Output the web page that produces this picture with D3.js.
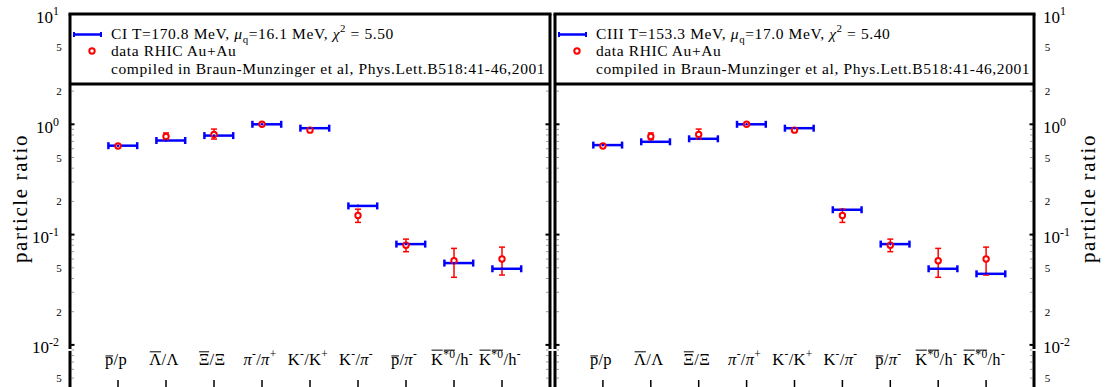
<!DOCTYPE html>
<html>
<head>
<meta charset="utf-8">
<script src="https://cdn.jsdelivr.net/npm/d3@7"></script>
<style>
  body { margin: 0; background: #fff; }
  svg { display: block; font-family: "Liberation Serif", "DejaVu Serif", serif; }
</style>
</head>
<body>
<div id="graph"></div>
<script>
// ---- data ----
const categories = [
    [{t: "p", over: 0.55}, {t: "/p"}],
    [{t: "Λ", over: 0.8}, {t: "/Λ"}],
    [{t: "Ξ", over: 0.8}, {t: "/Ξ"}],
    [{t: "π", it: true}, {t: "-", sup: true}, {t: "/"}, {t: "π", it: true}, {t: "+", sup: true}],
    [{t: "K"}, {t: "-", sup: true}, {t: "/K"}, {t: "+", sup: true}],
    [{t: "K"}, {t: "-", sup: true}, {t: "/"}, {t: "π", it: true}, {t: "-", sup: true}],
    [{t: "p", over: 0.55}, {t: "/"}, {t: "π", it: true}, {t: "-", sup: true}],
    [{t: "K", over: 0.9}, {t: "*0", sup: true, over: 0.9}, {t: "/h"}, {t: "-", sup: true}],
    [{t: "K", over: 0.9}, {t: "*0", sup: true, over: 0.9}, {t: "/h"}, {t: "-", sup: true}]
];

const ratioData = [0.635, 0.775, 0.81, 1.0, 0.885, 0.149, 0.080, 0.058, 0.060];
const ratioErrLo = [0.615, 0.725, 0.735, 0.985, 0.865, 0.129, 0.070, 0.041, 0.043];
const ratioErrHi = [0.655, 0.835, 0.905, 1.015, 0.905, 0.170, 0.091, 0.075, 0.077];

const fitCI = [0.640, 0.713, 0.790, 1.0, 0.922, 0.182, 0.082, 0.0552, 0.0490];
const fitCIII = [0.648, 0.694, 0.739, 1.0, 0.922, 0.168, 0.082, 0.0490, 0.0441];

const majorTicks = [10, 1, 0.1, 0.01];
const majorExp = ["1", "0", "-1", "-2"];
const minorLabelTicks = [5, 2, 0.5, 0.2, 0.05, 0.02, 0.005];
const minorLabels = ["5", "2", "5", "2", "5", "2", "5"];

const panels = [
    {x0: 70, x1: 550, side: "left", fit: fitCI,
     title: [{t: "CI T=170.8 MeV, "}, {t: "μ", it: true}, {t: "q", sub: true}, {t: "=16.1 MeV, "},
             {t: "χ", it: true}, {t: "2", sup: true}, {t: " = 5.50"}]},
    {x0: 555, x1: 1034, side: "right", fit: fitCIII,
     title: [{t: "CIII T=153.3 MeV, "}, {t: "μ", it: true}, {t: "q", sub: true}, {t: "=17.0 MeV, "},
             {t: "χ", it: true}, {t: "2", sup: true}, {t: " = 5.40"}]}
];

const width = 1115;
const height = 387;
const frameTop = 14;
const legendBottom = 84;

const svg = d3.select("#graph").append("svg")
    .attr("width", width)
    .attr("height", height);

const y = d3.scaleLog()
    .domain([10, Math.pow(10, -2.5)])
    .range([frameTop, frameTop + 3.5 * 110.3]);

// rich text helper: segments with sup/sub/italic/overline
const rich = (sel, segs, fs) => {
    let shift = 0;
    const overs = [];
    segs.forEach(s => {
        const ts = sel.append("tspan").text(s.t);
        let target = 0, size = fs;
        if (s.sup) { target = -fs * 0.42; size = fs * 0.7; }
        if (s.sub) { target = fs * 0.25; size = fs * 0.7; }
        ts.attr("dy", target - shift).style("font-size", size + "px");
        shift = target;
        if (s.it) ts.style("font-style", "italic");
        if (s.over) overs.push({node: ts.node(), h: s.over});
    });
    return overs;
};

const drawOverlines = (g, overs, baseY, fs) => {
    overs.forEach(o => {
        const b = o.node.getBBox();
        g.append("line")
            .attr("x1", b.x + 0.5).attr("x2", b.x + b.width - 0.5)
            .attr("y1", baseY - o.h * fs).attr("y2", baseY - o.h * fs)
            .attr("stroke", "#000").attr("stroke-width", 1);
    });
};

panels.forEach(p => {
    const g = svg.append("g");
    const x = d3.scaleLinear().domain([0, 10]).range([p.x0, p.x1]);
    const idx = d3.range(categories.length);

    // minor ticks (grey) on both sides
    const minors = [];
    for (let e = -3; e <= 0; e++) for (let m = 2; m <= 9; m++) minors.push(m * Math.pow(10, e));
    [p.x0, p.x1].forEach((xx, k) => {
        const dir = k === 0 ? 1 : -1;
        g.selectAll(null).data(minors.filter(v => y(v) > legendBottom + 2)).join("line")
            .attr("x1", xx + dir * 1.5).attr("x2", xx + dir * 4)
            .attr("y1", d => y(d)).attr("y2", d => y(d))
            .attr("stroke", "#999").attr("stroke-width", 1);
        g.selectAll(null).data(majorTicks.filter(v => y(v) > legendBottom + 2)).join("line")
            .attr("x1", xx - dir * 1).attr("x2", xx + dir * 4.5)
            .attr("y1", d => y(d)).attr("y2", d => y(d))
            .attr("stroke", "#000").attr("stroke-width", 2);
    });

    // frame
    const frame = g.append("g").attr("stroke", "#000").attr("stroke-width", 3).attr("fill", "none");
    frame.append("line").attr("x1", p.x0 - 1.5).attr("x2", p.x1 + 1.5).attr("y1", frameTop).attr("y2", frameTop);
    frame.append("line").attr("x1", p.x0).attr("x2", p.x1).attr("y1", legendBottom).attr("y2", legendBottom);
    [p.x0, p.x1].forEach(xx => {
        frame.append("line").attr("x1", xx).attr("x2", xx).attr("y1", frameTop).attr("y2", y(0.01) + 4);
        frame.append("line").attr("x1", xx).attr("x2", xx).attr("y1", y(0.01) + 6).attr("y2", height);
    });

    // y tick labels
    const lab = svg.append("g");
    const isLeft = p.side === "left";
    majorTicks.forEach((v, i) => {
        const t = lab.append("text")
            .attr("x", isLeft ? p.x0 - 11 : p.x1 + 9)
            .attr("y", y(v) + 8.5)
            .attr("text-anchor", isLeft ? "end" : "start")
            .style("font-size", "17px");
        rich(t, [{t: "10"}, {t: majorExp[i], sup: true}], 17);
    });
    lab.selectAll(null).data(minorLabelTicks).join("text")
        .attr("x", isLeft ? p.x0 - 11 : p.x1 + 13.5)
        .attr("y", d => y(d) + 4)
        .attr("text-anchor", "middle")
        .style("font-size", "11px")
        .text((d, i) => minorLabels[i]);

    const ax = isLeft ? 20 : 1088;
    lab.append("text")
        .attr("transform", `translate(${ax},${y(Math.pow(10, -0.7)) - 3}) rotate(-90)`)
        .attr("text-anchor", "middle")
        .attr("dy", "0.32em")
        .style("font-size", "21px")
        .style("letter-spacing", "1.6px")
        .text("particle ratio");

    // category labels
    idx.forEach(i => {
        const t = lab.append("text")
            .attr("x", x(i + 1) - 2)
            .attr("y", 365)
            .attr("text-anchor", "middle")
            .style("font-size", "16.5px")
            .style("letter-spacing", "0.3px");
        const overs = rich(t, categories[i], 16.5);
        drawOverlines(lab, overs, 365, 16.5);
    });
    lab.selectAll(null).data(idx).join("line")
        .attr("x1", i => x(i + 1)).attr("x2", i => x(i + 1))
        .attr("y1", 380).attr("y2", height)
        .attr("stroke", "#000").attr("stroke-width", 1.5);

    // fit bars (blue)
    const blue = "#0000ff";
    const fit = g.append("g").attr("stroke", blue).attr("stroke-width", 2.5);
    fit.selectAll(null).data(idx).join("line")
        .attr("x1", i => x(i + 1 - 0.2)).attr("x2", i => x(i + 1 + 0.4))
        .attr("y1", i => y(p.fit[i])).attr("y2", i => y(p.fit[i]));
    [-0.2, 0.4].forEach(off => {
        fit.selectAll(null).data(idx).join("line")
            .attr("x1", i => x(i + 1 + off)).attr("x2", i => x(i + 1 + off))
            .attr("y1", i => y(p.fit[i]) - 3.5).attr("y2", i => y(p.fit[i]) + 3.5);
    });

    // data (red)
    const red = "#ff0000";
    const dat = g.append("g").attr("stroke", red).attr("stroke-width", 1.5).attr("fill", "none");
    dat.selectAll(null).data(idx).join("line")
        .attr("x1", i => x(i + 1)).attr("x2", i => x(i + 1))
        .attr("y1", i => y(ratioErrLo[i])).attr("y2", i => y(ratioErrHi[i]));
    [ratioErrLo, ratioErrHi].forEach(arr => {
        dat.selectAll(null).data(idx).join("line")
            .attr("x1", i => x(i + 1) - 3).attr("x2", i => x(i + 1) + 3)
            .attr("y1", i => y(arr[i])).attr("y2", i => y(arr[i]));
    });
    dat.selectAll(null).data(idx).join("circle")
        .attr("cx", i => x(i + 1)).attr("cy", i => y(ratioData[i]))
        .attr("r", 2.7).attr("stroke-width", 2).attr("fill", "#fff");
    g.selectAll(null).data(idx).join("circle")
        .attr("cx", i => x(i + 1)).attr("cy", i => y(p.fit[i]))
        .attr("r", 1.3).attr("fill", blue);

    // legend
    const leg = svg.append("g");
    const lx = p.x0;
    leg.append("line").attr("x1", lx + 4).attr("x2", lx + 31).attr("y1", 34.5).attr("y2", 34.5)
        .attr("stroke", blue).attr("stroke-width", 2.5);
    [lx + 4, lx + 31].forEach(xx => leg.append("line")
        .attr("x1", xx).attr("x2", xx).attr("y1", 32).attr("y2", 37)
        .attr("stroke", blue).attr("stroke-width", 2));
    leg.append("circle").attr("cx", lx + 22).attr("cy", 51).attr("r", 2.7)
        .attr("fill", "#fff").attr("stroke", red).attr("stroke-width", 2);
    const legText = leg.append("g").style("font-size", "15.5px").style("letter-spacing", "0.6px");
    const t1 = legText.append("text").attr("x", lx + 41).attr("y", 39);
    rich(t1, p.title, 15.5);
    legText.append("text").attr("x", lx + 41).attr("y", 56)
        .text("data RHIC Au+Au");
    legText.append("text").attr("x", lx + 41).attr("y", 73.5)
        .text("compiled in Braun-Munzinger et al, Phys.Lett.B518:41-46,2001");
});
</script>
</body>
</html>
